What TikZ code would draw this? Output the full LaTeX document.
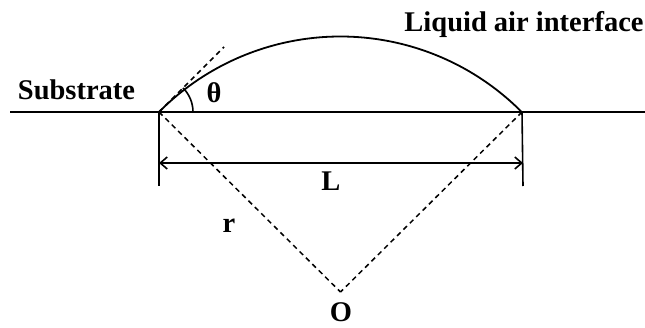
\documentclass[tikz,border=0pt]{standalone}
\usepackage{fontspec}
\setmainfont{Liberation Serif}
\usetikzlibrary{arrows.meta,calc}
\begin{document}
\begin{tikzpicture}[x=1pt,y=1pt,
  solid line/.style={line width=1.8pt},
  thin line/.style={line width=1.6pt},
  dash line/.style={line width=1.5pt,dash pattern=on 5pt off 4pt},
  lab/.style={inner sep=0pt,anchor=base,font=\fontsize{28.5}{31}\selectfont\bfseries}]
\useasboundingbox (0,0) rectangle (645,327);
% key points
\coordinate (A) at (159,215);
\coordinate (B) at (522,215);
\coordinate (O) at (340.5,35);
\coordinate (SL) at (10,215);
\coordinate (SR) at (645,215);
\coordinate (T) at (224,280);
\coordinate (AL) at (159,141);
\coordinate (BL) at (523,141);
\coordinate (LA) at (159,164);
\coordinate (LB) at (523,164);
\coordinate (TA) at (193,215);
% substrate
\draw[solid line] (SL) -- (SR);
% droplet interface (circle arc centred at O)
\draw[solid line] (A) arc[start angle=135.2,end angle=44.8,radius=255.6pt];
% tangent
\draw[dash line] (A) -- (T);
% radii
\draw[dash line] (A) -- (O);
\draw[dash line] (B) -- (O);
% contact angle arc
\draw[thin line] (TA) arc[start angle=0,end angle=45,radius=34pt];
% extension lines
\draw[thin line] (A) -- (AL);
\draw[thin line] (B) -- (BL);
% L dimension
\draw[thin line,{Straight Barb[length=7pt,width=12pt]}-{Straight Barb[length=7pt,width=12pt]}] (LA) -- (LB);
% labels
\node[lab] (sub) at (76.5,227) {Substrate};
\node[lab] (lai) at (524,295) {Liquid air interface};
\node[lab] (th) at (214,224) {θ};
\node[lab] (Ll) at (331,136) {L};
\node[lab] (rl) at (229,95) {r};
\node[lab] (Ol) at (341,5.5) {O};
\end{tikzpicture}
\end{document}
